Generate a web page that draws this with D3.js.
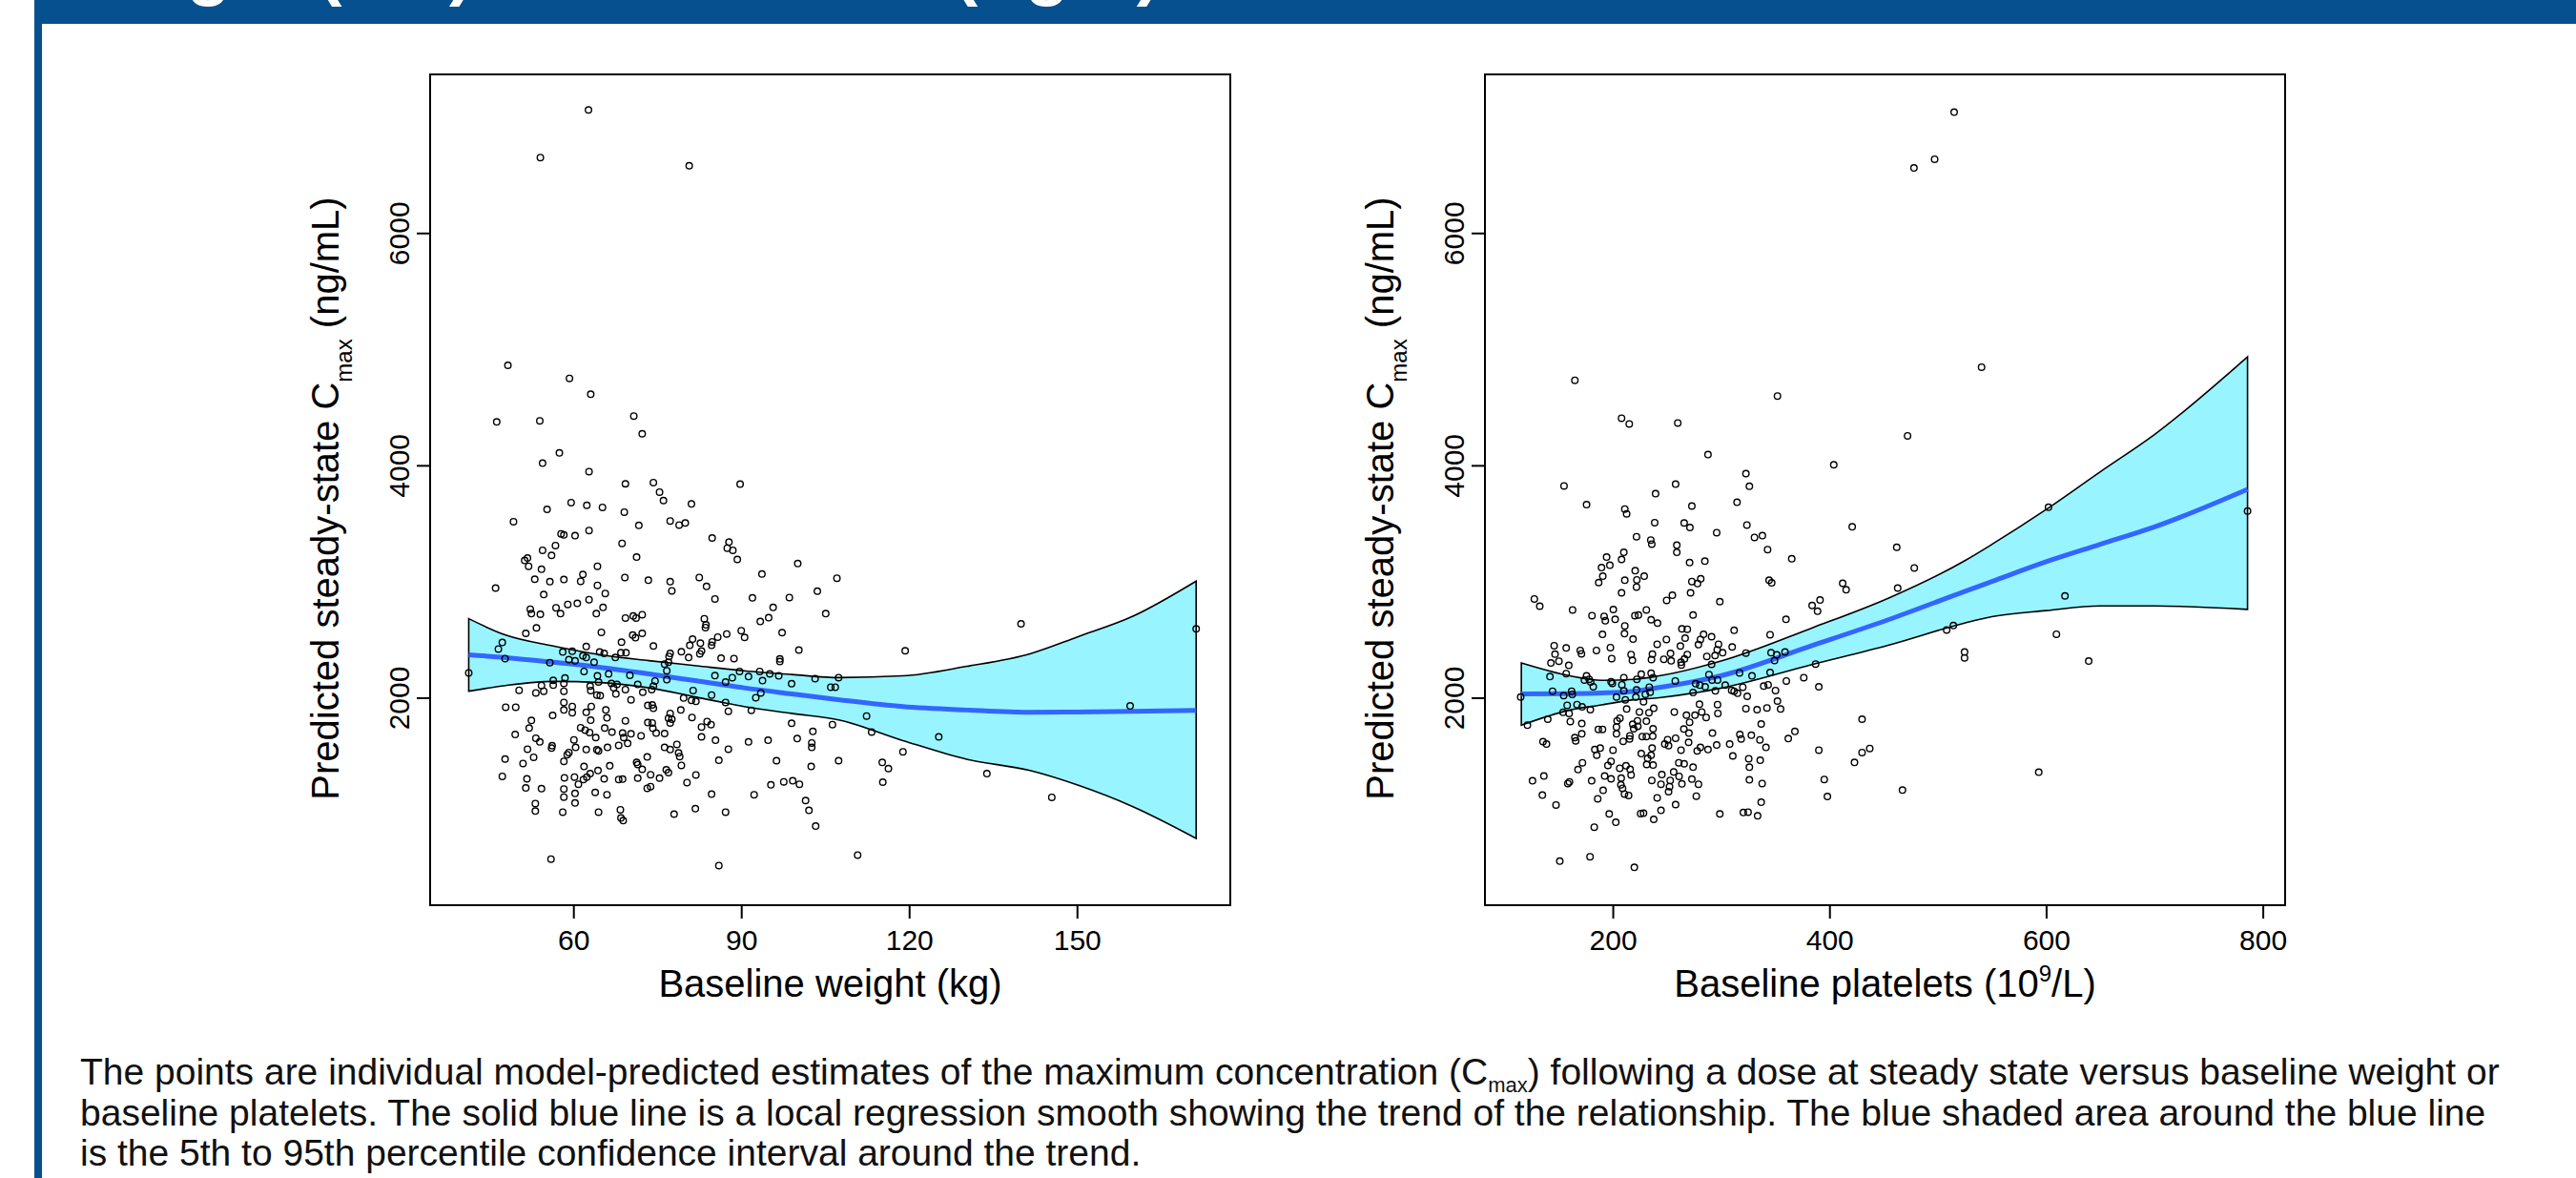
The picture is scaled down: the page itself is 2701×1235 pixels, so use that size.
<!DOCTYPE html>
<html>
<head>
<meta charset="utf-8">
<script src="https://cdn.jsdelivr.net/npm/d3@7"></script>
<style>
  body { margin: 0; background: #fff; }
  svg { display: block; font-family: "Liberation Sans", Arial, sans-serif; }
</style>
</head>
<body>
<div id="chart"></div>
<script>
// ---------------------------------------------------------------
// DATA
// ---------------------------------------------------------------

// [baseline weight (kg), predicted Cmax (ng/mL)]
const weightPoints = [
  [48.3,4861],[59.3,4749],[63.1,4612],[46.3,4374],[54.0,4383],[70.8,4424],[72.3,4272],[57.5,4107],[54.5,4019],[62.8,3946],
  [69.3,3841],[49.3,3515],[55.3,3621],[59.6,3679],[62.4,3656],[65.2,3638],[69.1,3597],[71.7,3483],[57.8,3410],[58.3,3401],
  [60.3,3395],[62.8,3439],[68.7,3328],[71.3,3210],[54.5,3269],[56.8,3310],[56.1,3225],[51.3,3181],[51.8,3202],[52.0,3131],
  [54.3,3105],[64.3,3131],[53.1,3020],[55.8,2999],[58.3,3017],[61.3,3002],[61.7,3061],[69.2,3035],[46.1,2944],[54.7,2888],
  [64.3,2967],[65.7,2897],[62.8,2844],[73.4,3011],[52.3,2762],[52.5,2724],[54.1,2718],[56.9,2774],[57.7,2724],[59.0,2803],
  [60.7,2812],[64.1,2724],[65.3,2777],[69.3,2686],[70.7,2703],[71.2,2686],[72.3,2715],[53.4,2601],[51.5,2554],[65.0,2563],
  [47.3,2475],[46.6,2419],[47.8,2337],[68.6,2478],[70.6,2539],[71.1,2516],[72.3,2554],[62.3,2440],[58.1,2393],[59.8,2399],
  [61.7,2360],[62.3,2346],[64.7,2393],[65.5,2381],[67.5,2346],[68.5,2387],[69.4,2387],[55.8,2302],[59.2,2328],[60.3,2317],
  [63.7,2305],[41.3,2214],[61.9,2226],[64.3,2188],[66.3,2205],[70.1,2193],[58.5,2170],[56.4,2149],[58.3,2123],[63.0,2100],
  [64.5,2135],[66.8,2123],[67.8,2114],[56.4,2108],[54.3,2105],[50.3,2064],[53.3,2041],[54.7,2056],[58.3,2056],[63.1,2062],
  [64.2,2023],[64.8,2018],[67.2,2085],[67.6,2032],[69.3,2070],[71.5,2114],[72.4,2047],[70.3,1982],[47.9,1918],[49.7,1918],
  [58.3,1959],[58.3,1894],[59.8,1924],[59.8,1871],[56.3,1848],[62.3,1874],[63.2,1924],[65.8,1894],[63.1,1806],[66.0,1827],
  [69.3,1801],[73.3,1933],[52.5,1804],[52.1,1739],[49.6,1683],[53.3,1651],[54.0,1619],[51.8,1557],[56.2,1587],[56.1,1566],
  [60.1,1637],[60.4,1572],[61.3,1742],[62.1,1721],[62.9,1701],[64.0,1657],[65.6,1739],[66.9,1704],[68.8,1695],[69.0,1657],
  [70.3,1689],[69.7,1607],[72.1,1672],[73.3,1786],[62.3,1554],[64.2,1552],[64.5,1543],[66.1,1572],[68.1,1590],[47.8,1472],
  [51.0,1434],[52.9,1487],[58.3,1452],[58.9,1510],[59.2,1528],[66.5,1414],[71.3,1443],[71.5,1425],[72.3,1384],[73.2,1490],
  [61.9,1408],[64.4,1373],[47.3,1323],[51.7,1302],[51.5,1223],[54.3,1217],[58.4,1311],[60.2,1317],[60.9,1255],[61.8,1296],
  [62.4,1317],[63.0,1346],[65.5,1302],[68.1,1296],[68.8,1299],[71.5,1308],[73.2,1220],[58.3,1214],[58.3,1144],[60.3,1176],
  [60.3,1094],[63.9,1185],[66.0,1165],[53.2,1089],[53.2,1024],[58.1,1015],[64.5,1015],[68.4,1036],[68.5,965],[68.9,942],
  [56.0,611],
  [74.3,3852],[75.4,3770],[76.1,3697],[81.1,3668],[89.8,3838],[77.3,3521],[78.9,3486],[80.0,3504],[84.8,3375],[87.8,3339],
  [87.5,3287],[88.5,3269],[89.3,3190],[100.1,3155],[93.7,3064],[82.5,3035],[77.3,2999],[77.6,2920],[83.8,2958],[85.3,2850],
  [92.0,2859],[98.6,2862],[103.6,2917],[105.1,2724],[107.1,3029],[95.7,2777],[94.9,2689],[93.4,2656],[83.4,2680],[83.7,2627],
  [83.6,2604],[90.0,2577],[90.6,2519],[97.3,2560],[87.4,2548],[85.8,2522],[84.8,2481],[84.7,2451],[81.3,2504],[80.8,2451],
  [82.7,2469],[82.6,2378],[82.9,2401],[79.3,2396],[80.6,2346],[77.3,2381],[77.1,2355],[76.3,2290],[77.0,2305],[76.7,2232],
  [76.7,2155],[74.3,2445],[86.4,2340],[88.7,2337],[96.9,2334],[96.9,2311],[100.3,2410],[89.7,2226],[93.3,2226],[95.1,2205],
  [96.7,2188],[85.3,2190],[88.4,2173],[87.2,2135],[91.3,2182],[93.8,2147],[99.0,2120],[103.2,2164],[106.0,2091],[106.8,2091],
  [107.4,2173],[74.6,2144],[74.3,2100],[74.0,2070],[81.4,2062],[79.7,1997],[81.1,1977],[81.9,1968],[84.7,2023],[87.2,1959],
  [87.7,1883],[92.6,2000],[93.5,2041],[91.8,1891],[74.1,1938],[74.3,1909],[79.2,1894],[77.3,1865],[77.0,1824],[77.6,1815],
  [77.3,1783],[81.2,1830],[83.9,1795],[84.6,1768],[82.9,1748],[82.9,1663],[85.4,1634],[87.7,1557],[91.3,1619],[94.8,1634],
  [99.0,1780],[100.0,1648],[102.8,1710],[102.6,1610],[102.6,1572],[106.3,1768],[107.4,1458],[74.1,1783],[74.2,1736],[74.8,1695],
  [76.3,1692],[76.3,1572],[77.3,1554],[78.5,1598],[78.8,1525],[79.0,1493],[79.3,1417],[86.0,1461],[96.3,1458],[102.5,1408],
  [76.6,1379],[77.0,1355],[75.4,1308],[73.8,1337],[73.8,1235],[81.9,1335],[80.3,1270],[84.7,1170],[92.3,1165],[95.3,1250],
  [97.6,1276],[99.2,1285],[100.4,1255],[101.5,1115],[102.1,1030],[103.3,895],[78.0,998],[81.8,1045],[87.2,1015],[86.0,555],
  [140.0,2636],[119.3,2404],[112.4,1842],[113.3,1704],[125.3,1663],[115.2,1443],[116.3,1390],[118.9,1534],[115.3,1273],[133.9,1346],
  [110.8,646],[62.7,7059],[54.1,6649],[80.7,6579],[159.5,1929],[171.3,2593],[145.5,1142]
];

// [baseline platelets (10^9/L), predicted Cmax (ng/mL)]
const plateletPoints = [
  [165.0,4732],[208.1,4406],[215.2,4357],[155.0,3823],[175.8,3662],[211.1,3624],[212.8,3583],[239.5,3756],[238.7,3507],[221.9,3386],
  [235.1,3357],[236.0,3322],[210.2,3251],[208.1,3190],[194.3,3210],[197.3,3140],[189.6,3120],[190.8,3046],[187.0,2991],[211.1,3011],
  [220.7,3093],[229.0,3046],[222.2,3014],[221.9,2953],[208.1,2903],[127.6,2850],[132.6,2788],[162.9,2756],[180.8,2706],[192.0,2700],
  [193.1,2662],[200.5,2759],[202.2,2674],[220.4,2706],[223.7,2712],[231.0,2756],[235.4,2671],[241.3,2642],[211.1,2618],[210.8,2551],
  [218.7,2504],[190.5,2545],[145.9,2448],[146.7,2375],[157.0,2428],[170.0,2407],[171.1,2378],[184.9,2407],[197.8,2431],[199.0,2337],
  [216.9,2372],[218.1,2322],[236.6,2375],[235.7,2328],[241.0,2460],[142.9,2299],[150.3,2314],[159.4,2278],[157.0,2208],[142.0,2182],
  [175.8,2188],[178.2,2158],[173.8,2152],[179.6,2135],[182.0,2094],[198.4,2138],[210.2,2173],[226.3,2202],[222.2,2158],[235.4,2211],
  [237.2,2173],[115.0,2006],[144.4,2056],[154.7,2018],[162.0,2056],[162.6,2029],[199.6,2123],[208.4,2111],[210.2,2059],[203.4,2006],
  [211.6,1982],[221.9,2067],[221.3,2006],[230.1,2029],[233.7,2091],[234.5,2047],[228.4,1965],[157.9,1935],[154.1,1874],[159.7,1865],
  [167.0,1941],[171.7,1921],[179.3,1897],[140.0,1815],[121.2,1763],[160.8,1795],[171.4,1777],[171.4,1689],[212.8,1903],[224.6,1877],
  [233.4,1871],[237.8,1909],[206.6,1824],[204.0,1801],[222.8,1801],[218.4,1771],[231.0,1798],[219.3,1733],[223.1,1754],[237.2,1733],
  [203.4,1748],[203.4,1689],[186.7,1727],[190.5,1727],[215.8,1672],[215.5,1645],[209.6,1625],[227.2,1666],[231.0,1666],[236.9,1669],
  [135.6,1622],[138.8,1601],[165.0,1657],[165.8,1628],[183.4,1554],[188.4,1566],[185.2,1505],[200.2,1549],[226.3,1519],[232.2,1478],
  [236.3,1566],[235.4,1505],[231.3,1425],[237.2,1420],[172.0,1440],[167.9,1381],[198.4,1452],[195.5,1417],[206.4,1393],[212.2,1414],
  [216.0,1384],[216.9,1335],[136.4,1326],[125.9,1285],[158.5,1261],[160.0,1276],[180.5,1285],[192.5,1326],[198.4,1302],[207.8,1308],
  [207.5,1250],[209.0,1220],[210.8,1171],[214.6,1159],[191.1,1203],[186.1,1130],[236.0,1288],[241.0,1138],[135.0,1162],[147.6,1077],
  [196.7,1000],[202.8,928],[225.7,1003],[228.4,1006],[237.8,953],[182.9,886],[151.1,593],[179.0,631],[219.9,540],
  [352.0,4597],[260.0,4365],[287.9,4093],[322.9,3929],[326.1,3820],[258.0,3838],[314.7,3682],[273.0,3650],[265.9,3504],[271.2,3465],
  [295.9,3421],[323.8,3486],[330.8,3380],[338.1,3395],[342.9,3275],[365.2,3196],[259.1,3313],[259.1,3251],[270.9,3163],[285.0,3175],
  [273.0,3000],[278.2,2982],[281.2,3023],[271.8,2903],[249.7,2838],[255.0,2882],[298.8,2827],[344.3,3011],[346.7,2988],[274.1,2712],
  [312.0,2580],[359.9,2674],[384.0,2794],[263.8,2592],[268.8,2589],[266.8,2513],[262.4,2445],[249.5,2501],[280.9,2501],[283.8,2545],
  [291.2,2525],[279.1,2457],[297.6,2460],[296.4,2413],[310.2,2437],[345.2,2542],[253.3,2381],[247.1,2331],[253.9,2317],[268.8,2372],
  [266.2,2334],[263.0,2305],[263.3,2281],[286.8,2355],[294.4,2363],[301.4,2387],[291.2,2287],[322.9,2384],[346.1,2387],[349.3,2320],
  [351.4,2369],[359.0,2393],[288.8,2199],[317.0,2214],[328.5,2188],[345.2,2217],[257.7,2144],[276.5,2120],[280.3,2108],[285.3,2094],
  [291.7,2152],[296.7,2152],[294.7,2059],[303.8,2108],[309.7,2064],[312.0,2056],[315.2,2038],[320.0,2091],[324.1,2012],[274.1,2044],
  [339.3,2100],[343.4,2111],[350.2,2062],[352.0,1971],[354.9,1903],[360.2,2144],[376.3,2173],[342.3,1912],[333.2,1897],[322.9,1906],
  [256.8,1877],[280.0,1944],[282.1,1877],[268.0,1850],[275.9,1850],[286.2,1830],[296.7,1941],[297.0,1865],[270.9,1789],[337.0,1774],
  [265.6,1730],[270.3,1695],[292.0,1695],[250.6,1639],[258.0,1651],[270.0,1616],[248.0,1601],[251.5,1587],[263.0,1549],[280.9,1572],
  [277.9,1543],[287.9,1554],[295.9,1593],[307.9,1601],[317.3,1683],[318.5,1645],[327.9,1677],[335.8,1637],[341.4,1572],[362.0,1648],
  [368.1,1710],[310.8,1499],[325.5,1475],[326.1,1402],[336.1,1461],[260.9,1440],[265.9,1431],[274.1,1402],[256.2,1361],[245.3,1338],
  [244.5,1255],[253.0,1288],[252.4,1235],[251.5,1191],[261.2,1323],[263.8,1258],[273.0,1299],[279.1,1255],[277.1,1153],[258.0,1080],
  [244.5,1030],[326.1,1293],[337.9,1261],[337.0,1100],[298.8,1000],[320.5,1012],[324.9,1015],[333.7,983],
  [472.1,4254],[404.0,4005],[421.0,3471],[462.1,3295],[478.3,3117],[412.2,2985],[415.4,2929],[463.0,2944],[391.3,2841],[389.0,2744],
  [387.2,2290],[390.2,2094],[508.2,2583],[514.4,2621],[524.7,2393],[524.7,2343],[430.1,1815],[390.2,1549],[430.1,1528],[437.2,1563],
  [423.1,1443],[395.2,1296],[398.1,1150],[467.4,1205],[515.1,7040],[478.0,6560],[497.1,6635],[540.4,4845],[602.2,3639],[617.4,2876],
  [609.5,2546],[639.3,2315],[593.2,1359],[785.9,3606]
];

// local regression smooth: x, fit, lower, upper
const weightSmoothX  = [41.3, 47.9, 56.4, 64.9, 73.5, 82, 90.5, 99, 107.6, 118.9, 130.3, 141.6, 150, 160, 171.3];
const weightSmoothFit = [2369, 2345, 2305, 2261, 2205, 2145, 2085, 2033, 1982, 1924, 1894, 1874, 1877, 1882, 1891];
const weightSmoothLo  = [2056, 2105, 2140, 2130, 2085, 2005, 1924, 1865, 1806, 1631, 1470, 1373, 1250, 1062, 789];
const weightSmoothHi  = [2680, 2539, 2445, 2369, 2319, 2275, 2232, 2200, 2173, 2188, 2270, 2378, 2522, 2701, 3003];

const plateletSmoothX   = [115.6, 160.5, 189.9, 219.3, 242.8, 301.4, 383.7, 454.2, 524.7, 550, 600, 650, 700, 785.9];
const plateletSmoothFit = [2032, 2035, 2041, 2056, 2088, 2193, 2448, 2671, 2914, 3000, 3170, 3320, 3470, 3794];
const plateletSmoothLo  = [1763, 1894, 1938, 1982, 2000, 2085, 2285, 2451, 2642, 2697, 2750, 2790, 2790, 2760];
const plateletSmoothHi  = [2299, 2188, 2150, 2158, 2188, 2320, 2600, 2856, 3178, 3320, 3620, 3945, 4265, 4934];

// axes
const concTicks = [2000, 4000, 6000];
const weightTicks = [60, 90, 120, 150];
const plateletTicks = [200, 400, 600, 800];

const titleText = "Weight (left) and Platelets (right)";
const captionLines = [
  ["The points are individual model-predicted estimates of the maximum concentration (C", "max", ") following a dose at steady state versus baseline weight or"],
  ["baseline platelets. The solid blue line is a local regression smooth showing the trend of the relationship. The blue shaded area around the blue line"],
  ["is the 5th to 95th percentile confidence interval around the trend."]
];

// ---------------------------------------------------------------
// SVG SETUP
// ---------------------------------------------------------------
const W = 2701, H = 1235;
const brand = "#07508F";

const svg = d3.select("#chart").append("svg")
    .attr("width", W)
    .attr("height", H);

// header band + left bar
svg.append("rect").attr("x", 36).attr("y", 0).attr("width", W - 36).attr("height", 25).attr("fill", brand);
svg.append("rect").attr("x", 36).attr("y", 0).attr("width", 8).attr("height", H).attr("fill", brand);

// title, mostly hidden above the top edge (as in the source page)
svg.append("text")
    .attr("x", 64)
    .attr("y", -8)
    .attr("fill", "#fff")
    .attr("font-weight", "bold")
    .attr("font-size", 75)
    .text(titleText);

// ---------------------------------------------------------------
// PANELS
// ---------------------------------------------------------------
const plotTop = 78, plotBottom = 949;
const y = d3.scaleLinear().domain([214, 7365]).range([plotBottom, plotTop]);

function zipSmooth(xs, fit, lo, hi) {
  return xs.map((x, i) => ({x, fit: fit[i], lo: lo[i], hi: hi[i]}));
}

function drawPanel(opt) {
  const x = d3.scaleLinear().domain(opt.xDomain).range([opt.left, opt.right]);
  const g = svg.append("g");
  const smooth = zipSmooth(opt.sx, opt.sfit, opt.slo, opt.shi);

  // confidence band
  const area = d3.area()
      .x(d => x(d.x))
      .y0(d => y(d.lo))
      .y1(d => y(d.hi))
      .curve(d3.curveMonotoneX);
  g.append("path")
      .datum(smooth)
      .attr("d", area)
      .attr("fill", "#98F5FF")
      .attr("stroke", "#000")
      .attr("stroke-width", 1.6);

  // trend line
  const line = d3.line()
      .x(d => x(d.x))
      .y(d => y(d.fit))
      .curve(d3.curveMonotoneX);
  g.append("path")
      .datum(smooth)
      .attr("d", line)
      .attr("fill", "none")
      .attr("stroke", "#3366FF")
      .attr("stroke-width", 5);

  // points
  g.selectAll("circle")
    .data(opt.points)
    .enter().append("circle")
      .attr("cx", d => x(d[0]))
      .attr("cy", d => y(d[1]))
      .attr("r", 3.3)
      .attr("fill", "none")
      .attr("stroke", "#000")
      .attr("stroke-width", 1.4);

  // frame
  g.append("rect")
      .attr("x", opt.left)
      .attr("y", plotTop)
      .attr("width", opt.right - opt.left)
      .attr("height", plotBottom - plotTop)
      .attr("fill", "none")
      .attr("stroke", "#000")
      .attr("stroke-width", 2);

  // x axis
  const xa = g.append("g")
      .attr("transform", `translate(0,${plotBottom})`)
      .call(d3.axisBottom(x).tickValues(opt.xTicks).tickSize(14).tickFormat(d3.format("d")));
  xa.select(".domain").remove();
  xa.selectAll("line").attr("stroke", "#000").attr("stroke-width", 2);
  xa.selectAll("text")
      .attr("y", 47).attr("dy", 0)
      .attr("fill", "#000")
      .attr("font-size", 30)
      .attr("font-family", "Liberation Sans, Arial, sans-serif");

  // y axis
  const ya = g.append("g")
      .attr("transform", `translate(${opt.left},0)`)
      .call(d3.axisLeft(y).tickValues(concTicks).tickSize(14).tickFormat(d3.format("d")));
  ya.select(".domain").remove();
  ya.selectAll("line").attr("stroke", "#000").attr("stroke-width", 2);
  ya.selectAll("text")
      .attr("transform", "rotate(-90)")
      .attr("x", 0).attr("y", -22).attr("dy", 0)
      .attr("text-anchor", "middle")
      .attr("fill", "#000")
      .attr("font-size", 30)
      .attr("font-family", "Liberation Sans, Arial, sans-serif");

  // x title
  const xt = g.append("text")
      .attr("x", (opt.left + opt.right) / 2)
      .attr("y", 1045)
      .attr("text-anchor", "middle")
      .attr("font-size", 40);
  opt.xTitle(xt);

  // y title
  const yt = g.append("text")
      .attr("transform", `translate(${opt.left - 96},${(plotTop + plotBottom) / 2 + 9}) rotate(-90)`)
      .attr("text-anchor", "middle")
      .attr("font-size", 40);
  yt.append("tspan").text("Predicted steady-state C");
  yt.append("tspan").attr("font-size", 24).attr("dy", 14).text("max");
  yt.append("tspan").attr("dy", -14).text(" (ng/mL)");
}

drawPanel({
  left: 451, right: 1290,
  xDomain: [34.4, 177.4],
  xTicks: weightTicks,
  points: weightPoints,
  sx: weightSmoothX, sfit: weightSmoothFit, slo: weightSmoothLo, shi: weightSmoothHi,
  xTitle: t => t.text("Baseline weight (kg)")
});

drawPanel({
  left: 1557, right: 2396,
  xDomain: [82, 820.6],
  xTicks: plateletTicks,
  points: plateletPoints,
  sx: plateletSmoothX, sfit: plateletSmoothFit, slo: plateletSmoothLo, shi: plateletSmoothHi,
  xTitle: t => {
    t.append("tspan").text("Baseline platelets (10");
    t.append("tspan").attr("font-size", 24).attr("dy", -16).text("9");
    t.append("tspan").attr("dy", 16).text("/L)");
  }
});

// ---------------------------------------------------------------
// CAPTION
// ---------------------------------------------------------------
const capY = [1137, 1180, 1222];
captionLines.forEach((parts, i) => {
  const t = svg.append("text")
      .attr("x", 84)
      .attr("y", capY[i])
      .attr("font-size", 39)
      .attr("fill", "#111");
  if (parts.length === 1) {
    t.text(parts[0]);
  } else {
    t.append("tspan").text(parts[0]);
    t.append("tspan").attr("font-size", 22).attr("dy", 8).text(parts[1]);
    t.append("tspan").attr("dy", -8).text(parts[2]);
  }
});
</script>
</body>
</html>
